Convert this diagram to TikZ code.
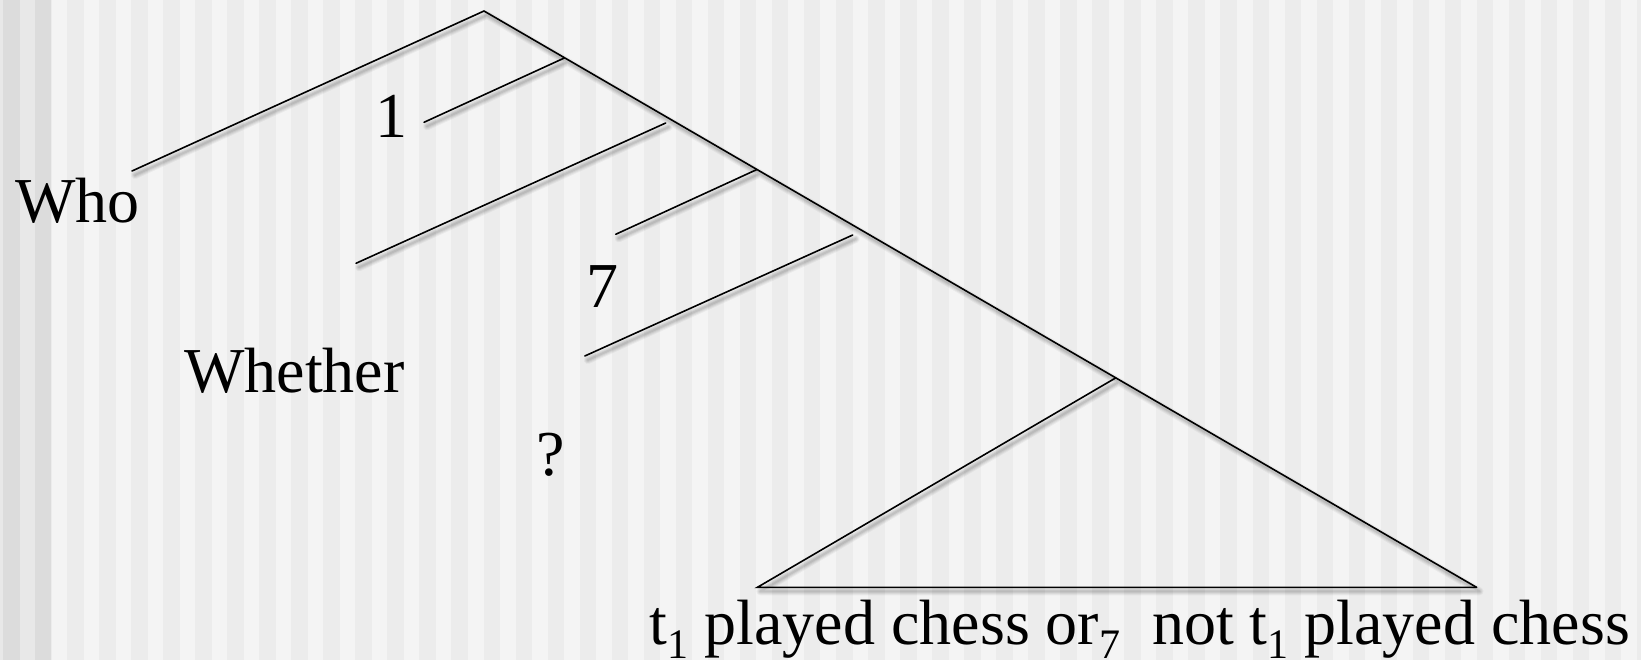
\documentclass[tikz,border=0pt]{standalone}
\usepackage{fontspec}
\setmainfont{Liberation Serif}
\newcommand{\sbs}[1]{\raisebox{-7pt}{\fontsize{21}{21}\selectfont #1}}
\definecolor{bgmid}{HTML}{ECECEC}
\definecolor{bglight}{HTML}{F4F4F4}
\definecolor{bgdark}{HTML}{DCDCDC}
\definecolor{bgleft}{HTML}{E8E8E8}
\tikzset{
  treeline/.style={draw=black, line width=0.8pt, line cap=round},
  shadowline/.style={draw=black, line cap=round, transform canvas={shift={(1.5pt,-2pt)}}},
  word/.style={inner sep=0pt, font=\fontsize{32pt}{38pt}\selectfont, text=black}
}
\begin{document}
\begin{tikzpicture}[x=0.5pt,y=-0.5pt]
\useasboundingbox (0,0) rectangle (1641,660);
% background stripes
\fill[bgmid] (0,0) rectangle (1641,660);
\fill[bgleft] (0,0) rectangle (2.7,660);
\fill[bgdark] (2.7,0) rectangle (20,660);
\fill[bgleft] (20,0) rectangle (35,660);
\fill[bgdark] (35,0) rectangle (51,660);
\foreach \k in {0,...,49} {\fill[bglight] ({51.5+32.04*\k},0) rectangle ({67+32.04*\k},660);}

% tree points
\coordinate (A) at (484,11);
\coordinate (W) at (132,171);
\coordinate (R) at (1476.5,587.3);
\coordinate (B1a) at (564.3,58);
\coordinate (B1b) at (424,122.3);
\coordinate (B2a) at (665.7,123);
\coordinate (B2b) at (356,263.3);
\coordinate (B3a) at (756.7,169.6);
\coordinate (B3b) at (615.7,234.3);
\coordinate (B4a) at (852.7,235);
\coordinate (B4b) at (584.8,356);
\coordinate (T) at (1115.5,378);
\coordinate (L) at (757.4,587.3);

% shadows
\foreach \w/\o in {8/0.04, 6/0.05, 4/0.06, 2/0.07} {
  \draw[shadowline, line width=\w*0.5pt, opacity=\o]
    (A) -- (W) (A) -- (R) (B1a) -- (B1b) (B2a) -- (B2b)
    (B3a) -- (B3b) (B4a) -- (B4b) (T) -- (L) (L) -- (R);
}
% lines
\draw[treeline] (A) -- (W);
\draw[treeline] (A) -- (R);
\draw[treeline] (B1a) -- (B1b);
\draw[treeline] (B2a) -- (B2b);
\draw[treeline] (B3a) -- (B3b);
\draw[treeline] (B4a) -- (B4b);
\draw[treeline] (T) -- (L) -- (R);

% labels
\node[word, anchor=base west] (who) at (15,222) {Who};
\node[word, anchor=base] (one) at (391.5,137) {1};
\node[word, anchor=base] (seven) at (602,307) {7};
\node[word, anchor=base] (whether) at (294.5,392) {Whether};
\node[word, anchor=base] (q) at (550.5,475) {?};
\node[word, anchor=base west] (yield) at (649.5,644) {t\sbs{1} played chess or\sbs{7}\hspace{16pt}not t\sbs{1} played chess};
\end{tikzpicture}
\end{document}
